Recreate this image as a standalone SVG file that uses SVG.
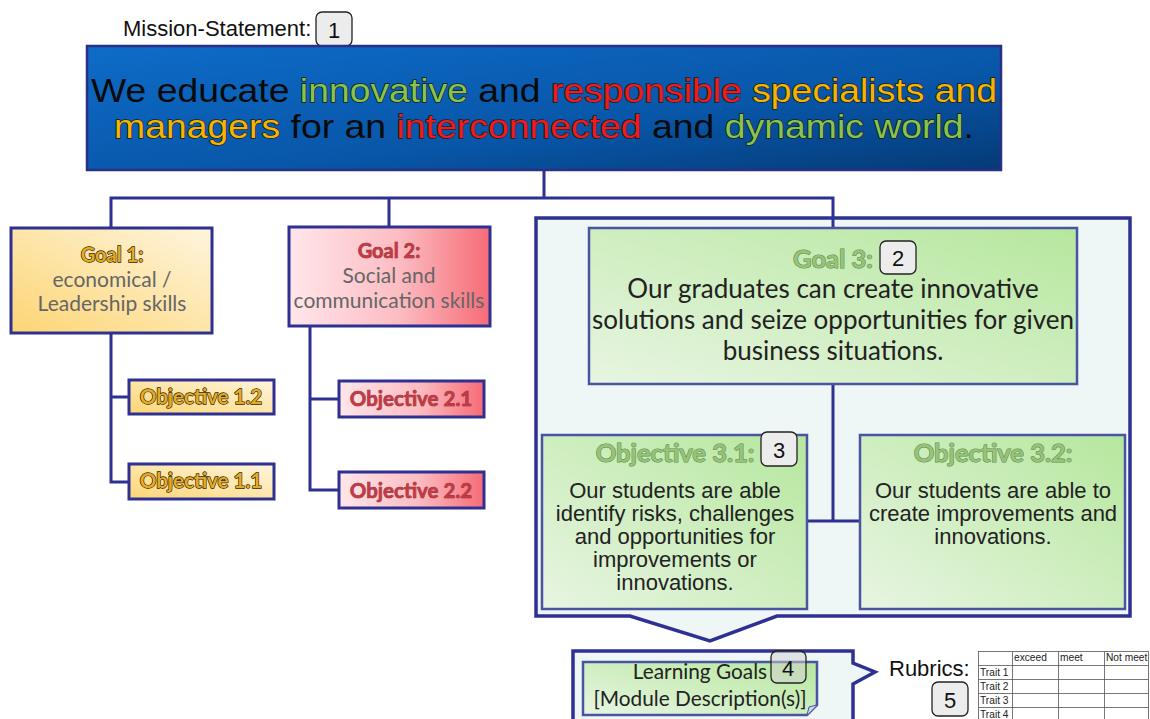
<svg xmlns="http://www.w3.org/2000/svg" width="1150" height="719" viewBox="0 0 1150 719">
  <defs>
    <linearGradient id="gMission" x1="0" y1="0" x2="1" y2="1">
      <stop offset="0" stop-color="#0e6cc8"/>
      <stop offset="0.6" stop-color="#0856a8"/>
      <stop offset="1" stop-color="#053a76"/>
    </linearGradient>
    <linearGradient id="gGold" x1="0" y1="1" x2="1" y2="0">
      <stop offset="0" stop-color="#fcd574"/>
      <stop offset="1" stop-color="#fff5de"/>
    </linearGradient>
    <linearGradient id="gRed" x1="0" y1="0" x2="1" y2="0">
      <stop offset="0" stop-color="#ffe6ea"/>
      <stop offset="0.55" stop-color="#fcbcc2"/>
      <stop offset="1" stop-color="#f66b76"/>
    </linearGradient>
    <linearGradient id="gGreen" x1="0" y1="1" x2="1" y2="0">
      <stop offset="0" stop-color="#e8f5e2"/>
      <stop offset="1" stop-color="#b6e79e"/>
    </linearGradient>
    <style>
      .box { stroke: #2e3192; stroke-width: 3; }
      .gbox { fill: url(#gGreen); stroke: #4a55a2; stroke-width: 2.5; }
      .link { fill: none; stroke: #2e3192; stroke-width: 3; }
      .badge { fill: #ececec; stroke: #222; stroke-width: 1.3; }
      .badgeTxt { font-family: "Liberation Sans", Arial, sans-serif; font-size: 22px; fill: #111; text-anchor: middle; }
      .mission { font-family: "Liberation Sans", Arial, sans-serif; font-size: 33px; text-anchor: middle; fill: #0a0a0a; }
      .hl { stroke: #1a1a1a; stroke-width: 1.4; paint-order: stroke; }
      .cal { font-family: Lato, "Open Sans", sans-serif; text-anchor: middle; }
      .ar { font-family: "Liberation Sans", Arial, sans-serif; text-anchor: middle; }
      .goldLbl { fill: #e6ab24; stroke: #2a1e00; stroke-width: 1.3; paint-order: stroke; font-weight: bold; }
      .redLbl { fill: #c23a45; stroke: #7a1a20; stroke-width: 0.6; paint-order: stroke; font-weight: bold; }
      .greenLbl { fill: #97c27a; stroke: #5d8a48; stroke-width: 1.1; paint-order: stroke; font-weight: bold; }
      .tbl { fill: none; stroke: #555; stroke-width: 0.8; }
      .tt { font-family: "Liberation Sans", Arial, sans-serif; font-size: 10.2px; fill: #222; }
    </style>
  </defs>

  <rect width="1150" height="719" fill="#ffffff"/>

  <!-- Goal 3 container frame with downward pointer -->
  <g id="goal3-frame">
    <path d="M536,218 H1130 V616 H777 L710,641 L630,616 H536 Z" fill="#eef6f6" stroke="#2e3192" stroke-width="3.5" stroke-linejoin="miter"/>
  </g>

  <!-- Learning goals frame with right pointer -->
  <g id="learning-frame">
    <path d="M573,722 V651 H853 V663 L875,672 L853,684 V722" fill="#eef6f6" stroke="#2e3192" stroke-width="3.5"/>
  </g>

  <!-- connectors -->
  <g id="connectors">
    <path class="link" d="M544,170 V198 M111,228 V198 H833 V228 M389,198 V227"/>
    <path class="link" d="M111,333 V482 H129 M111,397 H129"/>
    <path class="link" d="M310,326 V490 H339 M310,399 H339"/>
    <path class="link" d="M833,384 V521 M807,521 H860"/>
  </g>

  <!-- Mission statement -->
  <g id="mission">
    <text x="123" y="36" font-family="'Liberation Sans', Arial, sans-serif" font-size="22" fill="#111">Mission-Statement:</text>
    <rect class="badge" x="316" y="12" width="36" height="34" rx="6"/>
    <text class="badgeTxt" x="334" y="38">1</text>
    <rect x="87" y="46" width="914" height="124" fill="url(#gMission)" stroke="#2b2f86" stroke-width="2.5"/>
    <text class="mission" x="544" y="102" textLength="906" lengthAdjust="spacingAndGlyphs">We educate <tspan class="hl" fill="#86c44c">innovative</tspan> and <tspan class="hl" fill="#ee1c1c">responsible</tspan> <tspan class="hl" fill="#f4b400">specialists and</tspan></text>
    <text class="mission" x="544" y="138" textLength="860" lengthAdjust="spacingAndGlyphs"><tspan class="hl" fill="#f4b400">managers</tspan> for an <tspan class="hl" fill="#ee1c1c">interconnected</tspan> and <tspan class="hl" fill="#86c44c">dynamic world</tspan>.</text>
  </g>

  <!-- Goal 1 -->
  <g id="goal1">
    <rect class="box" x="11" y="228" width="201" height="105" fill="url(#gGold)"/>
    <text class="cal goldLbl" x="112" y="262" font-size="20">Goal 1:</text>
    <text class="cal" x="112" y="287" font-size="21" fill="#666">economical /</text>
    <text class="cal" x="112" y="311" font-size="21" fill="#666">Leadership skills</text>
  </g>
  <g id="obj12">
    <rect class="box" x="129" y="380" width="145" height="34" fill="url(#gGold)"/>
    <text class="cal goldLbl" x="201" y="404" font-size="20.5">Objective 1.2</text>
  </g>
  <g id="obj11">
    <rect class="box" x="129" y="464" width="145" height="35" fill="url(#gGold)"/>
    <text class="cal goldLbl" x="201" y="488" font-size="20.5">Objective 1.1</text>
  </g>

  <!-- Goal 2 -->
  <g id="goal2">
    <rect class="box" x="289" y="227" width="201" height="99" fill="url(#gRed)"/>
    <text class="cal redLbl" x="389" y="258" font-size="20">Goal 2:</text>
    <text class="cal" x="389" y="283" font-size="21" fill="#666">Social and</text>
    <text class="cal" x="389" y="308" font-size="21" fill="#666">communication skills</text>
  </g>
  <g id="obj21">
    <rect class="box" x="339" y="381" width="145" height="36" fill="url(#gRed)"/>
    <text class="cal redLbl" x="411" y="406" font-size="20.5">Objective 2.1</text>
  </g>
  <g id="obj22">
    <rect class="box" x="339" y="472" width="145" height="36" fill="url(#gRed)"/>
    <text class="cal redLbl" x="411" y="498" font-size="20.5">Objective 2.2</text>
  </g>

  <!-- Goal 3 -->
  <g id="goal3">
    <rect class="gbox" x="589" y="228" width="488" height="156"/>
    <text class="cal greenLbl" x="833" y="268" font-size="25.5">Goal 3:</text>
    <rect class="badge" x="880" y="241" width="36" height="33" rx="6" fill="#d8e4d4"/>
    <text class="badgeTxt" x="898" y="266">2</text>
    <text class="cal" x="833" y="298" font-size="26" fill="#222">Our graduates can create innovative</text>
    <text class="cal" x="833" y="329" font-size="26" fill="#222">solutions and seize opportunities for given</text>
    <text class="cal" x="833" y="360" font-size="26" fill="#222">business situations.</text>
  </g>

  <!-- Objective 3.1 -->
  <g id="obj31">
    <rect class="gbox" x="542" y="435" width="265" height="174"/>
    <text class="cal greenLbl" x="675" y="462" font-size="25.5">Objective 3.1:</text>
    <rect class="badge" x="761" y="432" width="36" height="34" rx="6" fill="#d8e4d4"/>
    <text class="badgeTxt" x="779" y="458">3</text>
    <text class="ar" x="675" y="498" font-size="22" fill="#222">Our students are able</text>
    <text class="ar" x="675" y="521" font-size="22" fill="#222">identify risks, challenges</text>
    <text class="ar" x="675" y="544" font-size="22" fill="#222">and opportunities for</text>
    <text class="ar" x="675" y="567" font-size="22" fill="#222">improvements or</text>
    <text class="ar" x="675" y="590" font-size="22" fill="#222">innovations.</text>
  </g>

  <!-- Objective 3.2 -->
  <g id="obj32">
    <rect class="gbox" x="860" y="435" width="265" height="174"/>
    <text class="cal greenLbl" x="993" y="462" font-size="25.5">Objective 3.2:</text>
    <text class="ar" x="993" y="498" font-size="22" fill="#222">Our students are able to</text>
    <text class="ar" x="993" y="521" font-size="22" fill="#222">create improvements and</text>
    <text class="ar" x="993" y="544" font-size="22" fill="#222">innovations.</text>
  </g>

  <!-- Learning goals (module description) -->
  <g id="learning-goals">
    <path d="M583,662 H817 V705 L807,715 H583 Z" fill="url(#gGreen)" stroke="#4a55a2" stroke-width="2.5"/>
    <path d="M807,715 L809,707 L817,705" fill="#c9d8ee" stroke="#4a55a2" stroke-width="1"/>
    <text class="cal" x="700" y="679" font-size="20.8" fill="#222">Learning Goals</text>
    <text class="cal" x="700" y="706" font-size="20.8" fill="#222">[Module Description(s)]</text>
    <rect x="771" y="651" width="35" height="32" rx="6" fill="#cfcfcf" fill-opacity="0.5" stroke="#222" stroke-width="1.3"/>
    <text class="badgeTxt" x="788" y="676">4</text>
  </g>

  <!-- Rubrics -->
  <g id="rubrics">
    <text x="889" y="676" font-family="'Liberation Sans', Arial, sans-serif" font-size="22" fill="#111">Rubrics:</text>
    <rect class="badge" x="932" y="682" width="36" height="34" rx="6"/>
    <text class="badgeTxt" x="950" y="708">5</text>
    <g id="rubric-table">
      <rect class="tbl" x="978.5" y="651.5" width="170" height="70"/>
      <path class="tbl" d="M978.5,665.5 H1148.5 M978.5,679.5 H1148.5 M978.5,693.5 H1148.5 M978.5,707.5 H1148.5 M1012.5,651.5 V721 M1058.5,651.5 V721 M1104.5,651.5 V721"/>
      <text class="tt" x="1014" y="661">exceed</text>
      <text class="tt" x="1060" y="661">meet</text>
      <text class="tt" x="1106" y="661">Not meet</text>
      <text class="tt" x="980" y="676">Trait 1</text>
      <text class="tt" x="980" y="690">Trait 2</text>
      <text class="tt" x="980" y="704">Trait 3</text>
      <text class="tt" x="980" y="718">Trait 4</text>
    </g>
  </g>
</svg>
